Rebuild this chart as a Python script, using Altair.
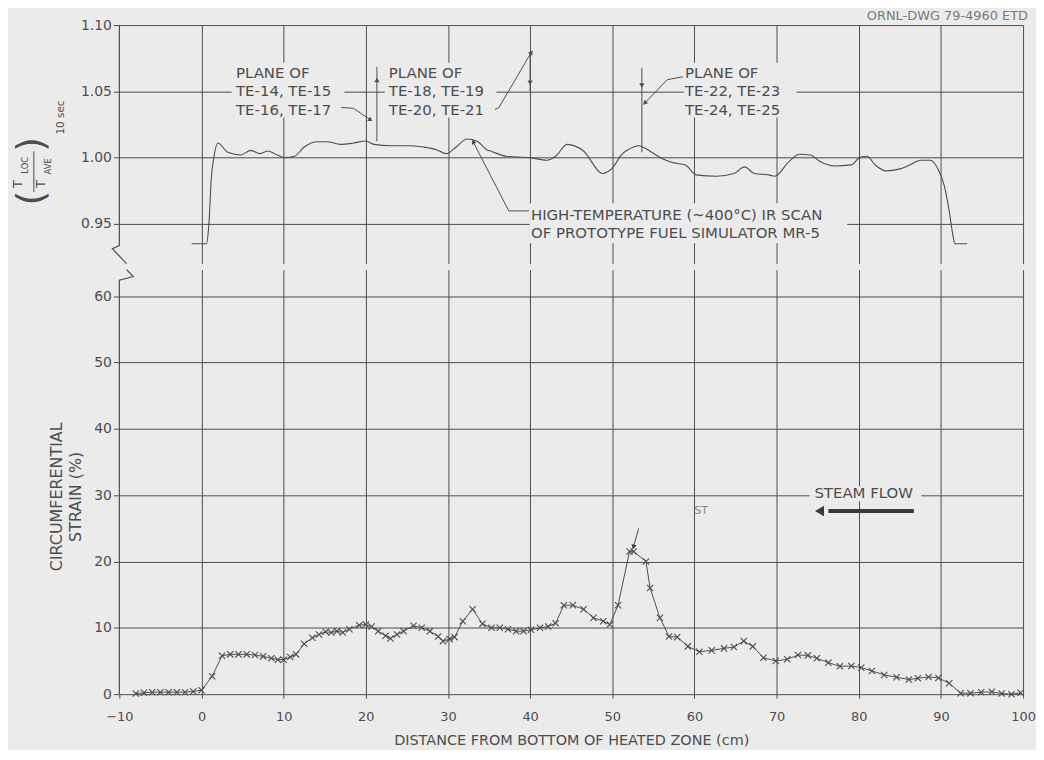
import altair as alt
import pandas as pd

# ---------------- data ----------------
# upper panel: high-temperature IR scan, T_loc / T_ave (10 sec)
temp_cm = [-1.2, 0.6, 0.9, 1.2, 1.5, 2.0, 3.2, 4.8, 6.0, 7.1, 8.1, 8.9, 10.1, 11.3, 12.5,
           14.1, 15.3, 16.9, 18.5, 20.0, 21.0, 23.0, 25.0, 27.0, 28.6, 29.8, 31.0, 32.3,
           33.5, 34.7, 35.4, 37.1, 40.0, 42.0, 43.1, 44.5, 46.5, 48.8, 50.0, 51.1, 52.6,
           53.2, 54.7, 56.0, 57.2, 58.9, 60.2, 62.7, 64.8, 66.1, 67.3, 69.0, 69.8, 71.5,
           72.8, 74.1, 75.3, 77.0, 79.1, 80.1, 81.0, 82.0, 83.3, 85.0, 86.2, 87.5, 88.7,
           89.6, 90.4, 91.0, 91.5, 91.7, 93.2]
temp_ratio = [0.935, 0.935, 0.950, 0.985, 1.000, 1.011, 1.004, 1.002, 1.0055, 1.003, 1.005,
              1.003, 1.000, 1.001, 1.008, 1.012, 1.012, 1.010, 1.011, 1.0125, 1.010, 1.009,
              1.009, 1.008, 1.006, 1.003, 1.008, 1.014, 1.0125, 1.006, 1.0045, 1.001, 1.000,
              0.998, 1.001, 1.010, 1.005, 0.988, 0.992, 1.002, 1.008, 1.009, 1.0045, 0.9995,
              0.9965, 0.9945, 0.987, 0.986, 0.988, 0.993, 0.988, 0.987, 0.986, 0.997, 1.0025,
              1.002, 0.997, 0.9937, 0.9945, 1.000, 1.001, 0.9945, 0.990, 0.9915, 0.9945,
              0.998, 0.998, 0.992, 0.979, 0.960, 0.940, 0.935, 0.935]

# lower panel: circumferential strain (%)
strain_cm = [-8, -7, -6, -5, -4, -3, -2, -1, 0, 1.3, 2.5, 3.5, 4.5, 5.5, 6.5, 7.5, 8.5, 9.3,
             10.0, 10.8, 11.5, 12.5, 13.5, 14.3, 15.1, 15.8, 16.5, 17.2, 18.0, 19.2, 20.0,
             20.7, 21.5, 22.4, 23.0, 23.8, 24.6, 25.8, 26.8, 27.8, 28.8, 29.4, 30.2, 30.8,
             31.8, 33.0, 34.2, 35.3, 36.3, 37.3, 38.3, 39.2, 40.1, 41.2, 42.2, 43.1, 44.1,
             45.2, 46.5, 47.7, 48.9, 49.7, 50.7, 52.1, 52.6, 54.1, 54.6, 55.8, 56.9, 57.9,
             59.2, 60.6, 62.1, 63.6, 64.8, 66.0, 67.1, 68.4, 69.9, 71.3, 72.6, 73.8, 74.9,
             76.3, 77.7, 79.1, 80.3, 81.6, 83.1, 84.6, 86.1, 87.2, 88.5, 89.7, 91.0, 92.4,
             93.6, 94.9, 96.2, 97.4, 98.6, 99.7]
strain_pct = [0.1, 0.2, 0.3, 0.3, 0.3, 0.3, 0.3, 0.4, 0.6, 2.7, 5.8, 6.0, 6.0, 6.0, 5.9, 5.7,
              5.4, 5.2, 5.2, 5.6, 6.0, 7.6, 8.5, 9.0, 9.4, 9.3, 9.5, 9.3, 9.8, 10.4, 10.5,
              10.2, 9.5, 8.8, 8.4, 9.0, 9.5, 10.3, 10.0, 9.5, 8.7, 8.0, 8.3, 8.6, 11.0, 12.8,
              10.6, 10.0, 10.0, 9.8, 9.5, 9.5, 9.7, 10.0, 10.2, 10.7, 13.4, 13.4, 12.8, 11.5,
              11.0, 10.5, 13.4, 21.5, 21.5, 20.0, 16.0, 11.5, 8.7, 8.6, 7.2, 6.4, 6.6, 6.9,
              7.1, 8.0, 7.2, 5.5, 5.0, 5.25, 5.9, 5.85, 5.4, 4.75, 4.2, 4.25, 4.0, 3.5, 2.9,
              2.55, 2.2, 2.4, 2.6, 2.45, 1.65, 0.15, 0.15, 0.3, 0.35, 0.1, 0.0, 0.2]

x_ticks = list(range(-10, 101, 10))
upper_ticks = [0.95, 1.00, 1.05, 1.10]
lower_ticks = list(range(0, 61, 10))

# annotation text
plane_texts = [["PLANE OF", "TE-14, TE-15", "TE-16, TE-17"],
               ["PLANE OF", "TE-18, TE-19", "TE-20, TE-21"],
               ["PLANE OF", "TE-22, TE-23", "TE-24, TE-25"]]
plane_text_x = [4.2, 22.8, 58.85]
plane_line_y = [1.064, 1.050, 1.036]
plane_marker_x = [21.35, 40.0, 53.6]
plane_marker_top = [1.0685, 1.079, 1.0678]
plane_marker_bottom = [1.0123, 1.050, 1.004]
scan_text = ["HIGH-TEMPERATURE (~400\u00b0C) IR SCAN", "OF PROTOTYPE FUEL SIMULATOR MR-5"]
scan_text_x = 40.1
scan_text_y = [0.9568, 0.9432]

# ---------------- style ----------------
BG = "#ebebeb"
INK = "#4d4d4d"
FONT = "DejaVu Sans"
W, H_UP, H_LO = 909, 240, 427
X_DOM = [-10, 100]
UP_DOM = [0.92, 1.10]
LO_DOM = [0, 64]
ANN = 15

grid_hide_first = {"condition": {"test": "datum.value === -10", "value": "transparent"},
                   "value": INK}

x_axis_up = alt.Axis(values=x_ticks, labels=False, ticks=False, domain=False, title=None,
                     grid=True, gridColor=grid_hide_first)
x_axis_lo = alt.Axis(values=x_ticks, domain=False, grid=True, gridColor=grid_hide_first,
                     tickSize=4, labelPadding=12, labelFontSize=13, labelFlush=False,
                     title="DISTANCE FROM BOTTOM OF HEATED ZONE (cm)", titleFontSize=14.5,
                     titleFontWeight="normal", titlePadding=11)
y_axis_up = alt.Axis(values=upper_ticks, format=".2f", domain=False, grid=True, tickSize=6,
                     labelPadding=2, labelFontSize=14, title=None)
y_axis_lo = alt.Axis(values=lower_ticks, domain=False, grid=True, tickSize=6, labelPadding=2,
                     labelFontSize=14, title=["CIRCUMFERENTIAL", "STRAIN (%)"],
                     titleFontSize=16, titleFontWeight="normal", titleAngle=270,
                     titleAlign="center", titleBaseline="middle", titleLineHeight=19,
                     titleX=-63, titleY=228)


def xu(f="x"):
    return alt.X(f"{f}:Q", scale=alt.Scale(domain=X_DOM, nice=False, zero=False), axis=x_axis_up)


def yu(f="y"):
    return alt.Y(f"{f}:Q", scale=alt.Scale(domain=UP_DOM, nice=False, zero=False), axis=y_axis_up)


def xl(f="x"):
    return alt.X(f"{f}:Q", scale=alt.Scale(domain=X_DOM, nice=False, zero=False), axis=x_axis_lo)


def yl(f="y"):
    return alt.Y(f"{f}:Q", scale=alt.Scale(domain=LO_DOM, nice=False, zero=False), axis=y_axis_lo)


# ---------------- upper panel ----------------
up_rects = pd.DataFrame({
    "x": [3.67, 22.3, 58.7, 39.95],
    "x2": [17.4, 35.9, 72.4, 78.6],
    "y": [1.0715, 1.0715, 1.0715, 0.9655],
    "y2": [1.0303, 1.0303, 1.0303, 0.9355],
})
rect_up = alt.Chart(up_rects).mark_rect(color=BG).encode(
    x=xu(), x2="x2:Q", y=yu(), y2="y2:Q")

curve_up = alt.Chart(pd.DataFrame({"x": temp_cm, "y": temp_ratio})).mark_line(
    color=INK, strokeWidth=1.1, interpolate="monotone").encode(x=xu(), y=yu())

axis_up = alt.Chart(pd.DataFrame({
    "x": [-10, -10, -10.85, -9.13], "y": [1.10, 0.9336, 0.9313, 0.92], "i": [0, 1, 2, 3]
})).mark_line(color=INK, strokeWidth=1.2).encode(x=xu(), y=yu(), order="i:Q")

leaders = pd.DataFrame({
    "g": [1, 1, 1, 2, 2, 2, 3, 3, 3, 4, 4, 4],
    "i": [0, 1, 2] * 4,
    "x": [17.0, 18.5, 20.5, 35.7, 36.2, 40.1, 58.6, 56.7, 54.0, 33.1, 37.4, 39.85],
    "y": [1.0378, 1.0372, 1.0288, 1.0363, 1.0378, 1.079, 1.061, 1.0588, 1.0415,
          1.0115, 0.9598, 0.9598],
})
leader_up = alt.Chart(leaders).mark_line(color=INK, strokeWidth=1).encode(
    x=xu(), y=yu(), detail="g:N", order="i:Q")

markers = pd.DataFrame({"x": plane_marker_x, "y": plane_marker_top, "y2": plane_marker_bottom})
marker_up = alt.Chart(markers).mark_rule(color=INK, strokeWidth=1).encode(
    x=xu(), y=yu(), y2="y2:Q")

heads = pd.DataFrame({
    "x": [20.5, 40.1, 54.0, 33.1, 21.35, 40.0, 53.6],
    "y": [1.0288, 1.079, 1.0415, 1.0115, 1.058, 1.057, 1.055],
    "a": [121, 34, 224, 332, 0, 180, 180],
})
head_up = alt.Chart(heads).mark_point(shape="triangle", filled=True, size=28, color=INK,
                                      opacity=1).encode(
    x=xu(), y=yu(), angle=alt.Angle("a:Q", scale=None))

plane_rows = []
for k, lines in enumerate(plane_texts):
    for j, t in enumerate(lines):
        plane_rows.append({"x": plane_text_x[k], "y": plane_line_y[j], "t": t})
for j, t in enumerate(scan_text):
    plane_rows.append({"x": scan_text_x, "y": scan_text_y[j], "t": t})
text_up = alt.Chart(pd.DataFrame(plane_rows)).mark_text(
    align="left", baseline="middle", fontSize=ANN, color=INK, font=FONT).encode(
    x=xu(), y=yu(), text="t:N")

ornl = alt.Chart(pd.DataFrame({"x": [100.6], "t": ["ORNL-DWG 79-4960  ETD"]})).mark_text(
    align="right", baseline="middle", fontSize=13, color="#7a7a7a", font=FONT).encode(
    x=xu(), y=alt.value(-9), text="t:N")


def piece(txt, px, py, size, **kw):
    return alt.Chart(pd.DataFrame({"t": [txt]})).mark_text(
        text=txt, fontSize=size, color=INK, font=FONT, angle=270, align="center",
        baseline="middle", **kw).encode(x=alt.value(px - 121), y=alt.value(py - 25))


title_pieces = [
    piece("(", 33, 199, 38),
    piece(")", 33, 145, 38),
    piece("T", 19, 185, 13),
    piece("LOC", 26, 166, 8.5),
    piece("T", 42, 185, 13),
    piece("AVE", 49, 167, 8.5),
    piece("10 sec", 62, 118, 10.5),
]
frac_bar = alt.Chart(pd.DataFrame({"t": [0]})).mark_rule(color=INK, strokeWidth=1).encode(
    x=alt.value(35 - 121), y=alt.value(152 - 25), y2=alt.value(193 - 25))

upper = alt.layer(rect_up, curve_up, axis_up, leader_up, marker_up, head_up, text_up, ornl,
                  frac_bar, *title_pieces).properties(width=W, height=H_UP)

# ---------------- lower panel ----------------
rect_lo = alt.Chart(pd.DataFrame({"x": [74.0], "x2": [87.6], "y": [31.3], "y2": [29.1]})).mark_rect(
    color=BG).encode(x=xl(), x2="x2:Q", y=yl(), y2="y2:Q")

sdf = pd.DataFrame({"x": strain_cm, "y": strain_pct})
strain_line = alt.Chart(sdf).mark_line(color=INK, strokeWidth=1).encode(x=xl(), y=yl())
strain_pts = alt.Chart(sdf).mark_point(shape="M-1,-1L1,1M-1,1L1,-1", filled=False, size=40,
                                       color=INK, strokeWidth=1.1, opacity=1).encode(
    x=xl(), y=yl())

axis_lo = alt.Chart(pd.DataFrame({
    "x": [-9.13, -8.31, -10, -10], "y": [64.0, 62.97, 62.4, 0], "i": [0, 1, 2, 3]
})).mark_line(color=INK, strokeWidth=1.2).encode(x=xl(), y=yl(), order="i:Q")

arrows_lo = pd.DataFrame({
    "g": [1, 1, 2, 2], "i": [0, 1, 0, 1],
    "x": [86.7, 76.3, 53.2, 52.65], "y": [27.6, 27.6, 25.0, 22.5],
})
steam_line = alt.Chart(arrows_lo[arrows_lo.g == 1]).mark_line(color="#3a3a3a", strokeWidth=4).encode(
    x=xl(), y=yl(), order="i:Q")
burst_line = alt.Chart(arrows_lo[arrows_lo.g == 2]).mark_line(color=INK, strokeWidth=1).encode(
    x=xl(), y=yl(), order="i:Q")
heads_lo = pd.DataFrame({"x": [75.4, 52.6], "y": [27.6, 22.3], "a": [270, 195], "s": [110, 28]})
head_lo = alt.Chart(heads_lo).mark_point(shape="triangle", filled=True, color="#3a3a3a",
                                         opacity=1).encode(
    x=xl(), y=yl(), angle=alt.Angle("a:Q", scale=None), size=alt.Size("s:Q", scale=None))

text_lo = alt.Chart(pd.DataFrame({"x": [80.6], "y": [30.3], "t": ["STEAM FLOW"]})).mark_text(
    align="center", baseline="middle", fontSize=ANN, color=INK, font=FONT).encode(
    x=xl(), y=yl(), text="t:N")
burst_txt = alt.Chart(pd.DataFrame({"x": [60.8], "y": [27.6], "t": ["ST"]})).mark_text(
    align="center", baseline="middle", fontSize=11, color="#8a8a8a", font=FONT).encode(
    x=xl(), y=yl(), text="t:N")

lower = alt.layer(rect_lo, strain_line, strain_pts, axis_lo, steam_line, burst_line, head_lo,
                  text_lo, burst_txt).properties(width=W, height=H_LO)

chart = alt.vconcat(upper, lower, spacing=0).properties(
    background=BG, padding={"left": 4, "top": 0, "right": 0, "bottom": 0}
).configure_view(stroke=None).configure_axis(
    labelFont=FONT, titleFont=FONT, labelColor=INK, titleColor=INK, gridColor=INK,
    tickColor=INK, gridWidth=1, gridOpacity=1, tickWidth=1
).configure_text(font=FONT)

chart.save("out.html", embed_options={"renderer": "svg", "actions": False})
